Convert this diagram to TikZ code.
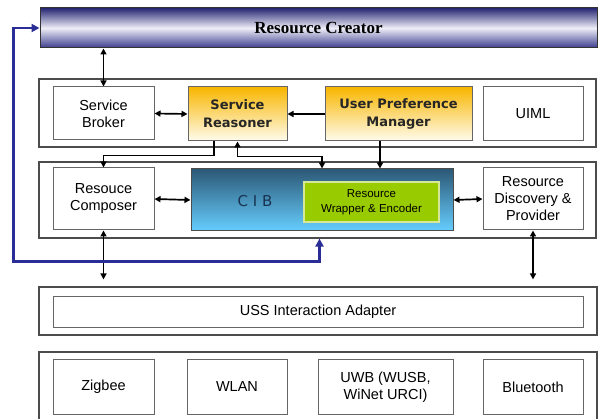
\documentclass[tikz,border=0pt]{standalone}
\usepackage{fontspec}
\setmainfont{Liberation Sans}
\newfontfamily\reasonerfont{DejaVu Sans}
\newfontfamily\creatorfont{Liberation Serif}
\usetikzlibrary{arrows.meta}

\definecolor{creatordark}{RGB}{38,38,115}
\definecolor{creatorlow}{RGB}{58,58,140}
\definecolor{creatormid}{RGB}{238,238,248}
\definecolor{linkblue}{RGB}{43,45,150}
\definecolor{reasontop}{RGB}{248,182,0}
\definecolor{reasonlow}{RGB}{255,252,238}
\definecolor{cibtop}{RGB}{44,88,118}
\definecolor{ciblow}{RGB}{102,206,255}
\definecolor{cibtext}{RGB}{25,50,80}
\definecolor{wrapfill}{RGB}{153,204,0}
\definecolor{wrapedge}{RGB}{214,232,150}

\begin{document}
\begin{tikzpicture}[x=1pt, y=-1pt,
  layerbox/.style={draw=black!70, line width=1.2pt, fill=white},
  unitbox/.style={draw=black!60, line width=1pt, fill=white, align=center,
    font=\fontsize{14.5}{17}\selectfont},
  creatorbox/.style={draw=black!80, line width=1pt, top color=creatordark,
    bottom color=creatorlow, middle color=creatormid,
    font=\creatorfont\bfseries\fontsize{17}{20}\selectfont},
  reasonbox/.style={draw=black!60, line width=1pt, top color=reasontop,
    bottom color=reasonlow, align=center, text=black!85,
    font=\reasonerfont\bfseries\fontsize{13}{18}\selectfont},
  cibbox/.style={draw=black!70, line width=1pt, top color=cibtop,
    bottom color=ciblow},
  wrapbox/.style={draw=wrapedge, line width=1.2pt, fill=wrapfill, align=center,
    font=\fontsize{11.5}{15}\selectfont},
  link/.style={line width=1.7pt, -{Triangle[length=6pt,width=6pt]}},
  bilink/.style={line width=1.7pt, {Triangle[length=6pt,width=6pt]}-{Triangle[length=6pt,width=6pt]}},
  backlink/.style={draw=linkblue, line width=2.4pt,
    {Triangle[length=8pt,width=8pt]}-{Triangle[length=8pt,width=8pt]}}]

  % page size, one unit = one pixel
  \useasboundingbox (0,0) rectangle (601,419);
  \clip (0,0) rectangle (601,419);

  % Resource creator on top
  \node[creatorbox, minimum width=557pt, minimum height=40pt] (creator) at (318.5,28) {Resource Creator};

  % Service layer
  \node[layerbox, minimum width=557pt, minimum height=68pt] (svclayer) at (317.5,113) {};
  \node[unitbox, minimum width=101pt, minimum height=53pt] (broker) at (103.5,113.5) {Service\\Broker};
  \node[reasonbox, minimum width=99pt, minimum height=54pt] (reasoner) at (237.5,114) {Service\\Reasoner};
  \node[reasonbox, minimum width=147pt, minimum height=54pt] (prefmgr) at (398.5,114) {User Preference\\Manager};
  \node[unitbox, minimum width=100pt, minimum height=54pt] (uiml) at (533,114) {UIML};

  % CIB layer
  \node[layerbox, minimum width=557pt, minimum height=76pt] (ciblayer) at (317.5,200) {};
  \node[unitbox, minimum width=101pt, minimum height=62pt] (composer) at (103.5,199) {Resouce\\Composer};
  \node[cibbox, minimum width=262pt, minimum height=62pt] (cib) at (322,200) {};
  \node[text=cibtext, font=\reasonerfont\fontsize{15}{18}\selectfont] (cibname) at (255,201) {C I B};
  \node[wrapbox, minimum width=135pt, minimum height=40pt] (wrapper) at (371.5,202) {Resource\\Wrapper \& Encoder};
  \node[unitbox, minimum width=100pt, minimum height=62pt] (discovery) at (533,199) {Resource\\Discovery \&\\Provider};

  % Interaction adapter
  \node[layerbox, minimum width=558pt, minimum height=48pt] (usslayer) at (318,311) {};
  \node[unitbox, minimum width=530pt, minimum height=31pt] (uss) at (318,311.5) {USS Interaction Adapter};

  % Network layer (cut by the lower edge)
  \node[layerbox, minimum width=558pt, minimum height=80pt] (netlayer) at (318,392) {};
  \node[unitbox, minimum width=101pt, minimum height=55pt] (zigbee) at (103.5,387) {Zigbee};
  \node[unitbox, minimum width=100pt, minimum height=55pt] (wlan) at (237,387) {WLAN};
  \node[unitbox, minimum width=135pt, minimum height=55pt] (uwb) at (385.5,387) {UWB (WUSB,\\WiNet URCI)};
  \node[unitbox, minimum width=100pt, minimum height=55pt] (bluetooth) at (533,387) {Bluetooth};

  % Connectors
  \draw[bilink] (broker.north) -- (broker.north |- creator.south);
  \draw[bilink] (broker.east) -- (reasoner.west);
  \draw[link] (prefmgr.west) -- (reasoner.east);
  \draw[link] ([xshift=-23.5pt]reasoner.south) -- ++(0,14) -| (composer.north);
  \draw[bilink] (reasoner.south) -- ++(0,15) -| (cib.north);
  \draw[link] ([xshift=-18.5pt]prefmgr.south) -- ([xshift=-18.5pt]prefmgr.south |- cib.north);
  \draw[bilink] (composer.east) -- (cib.west);
  \draw[bilink] (cib.east) -- (discovery.west);
  \draw[bilink, shorten >=7pt] (composer.south) -- (composer.south |- usslayer.north);
  \draw[bilink, shorten >=7pt] (discovery.south) -- (discovery.south |- usslayer.north);

  % Feedback line to the creator
  \draw[backlink] ([xshift=2pt]ciblayer.south) -- ++(0,23) -| ([xshift=-26pt]creator.west) -- (creator.west);
\end{tikzpicture}
\end{document}
